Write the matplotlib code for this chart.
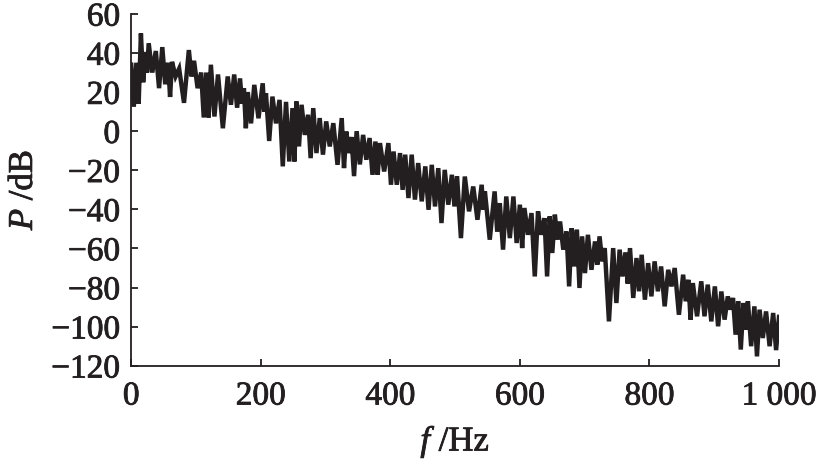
import matplotlib
matplotlib.use("Agg")
from matplotlib import pyplot as plt
from matplotlib import patheffects
from matplotlib.ticker import FuncFormatter

# segment start (Hz), upper and lower edge of the trace (dB)
seg_f = [0, 8, 15, 22, 27, 38, 48, 57, 63, 74, 89, 97, 108, 116, 123, 134, 149, 159, 168, 174,
         180, 190, 203, 208, 218, 229, 239, 249, 255, 263, 273, 281, 291, 301, 312, 325, 332, 340,
         348, 358, 368, 377, 384, 397, 405, 415, 423, 433, 443, 454, 464, 474, 484, 495, 503, 515,
         528, 541, 546, 561, 569, 579, 590, 600, 607, 618, 628, 638, 646, 654, 662, 672, 680, 688,
         696, 705, 716, 723, 731, 744, 754, 763, 770, 780, 788, 798, 808, 818, 829, 839, 852, 860,
         867, 880, 890, 901, 911, 921, 929, 937, 945, 952, 962, 970, 980, 991]
seg_top = [34, 35, 50, 40.5, 45, 41, 43, 35, 35.5, 32, 41.5, 36, 30, 30, 34, 29, 28, 29, 27, 22,
           20, 23.7, 24.5, 19.4, 17.7, 16, 15, 11.8, 15.2, 13.5, 8.4, 11.8, 6.7, 5, 4.1, 6.7, -0.2, -3,
           0, -1.9, -3.5, -5.3, -6.1, -6.1, -10.4, -11.2, -12, -12, -16.3, -18, -17.2, -18.9, -19.8, -22.3, -23, -23.2,
           -28.3, -27.4, -30.8, -30.8, -36.8, -33.4, -33.4, -37.6, -39.3, -41.9, -41, -44.5, -43.6, -42.7, -46.2, -51.3, -49.6, -50.4,
           -53.8, -53, -56.4, -53.8, -59.8, -59.8, -60.6, -62, -59.8, -64.9, -63.2, -67.5, -66.6, -69.2, -70.9, -70, -73.4, -76,
           -77.7, -76.8, -78.5, -79.4, -82, -84.5, -85.3, -87, -87.9, -87, -89.6, -91.3, -92.2, -93]
seg_bot = [12.5, 14, 25, 30, 30, 22, 24, 17.5, 28, 14.5, 28, 22, 7, 7, 7.5, 1.5, 13.5, 12, 14, 1.5,
           4, 6.6, 10, -5, 4, -18, -15.5, -15.5, -7.8, -1.9, -13.8, -11.2, -12, -7.8, -17.2, -18.9, -11.2, -23,
           -17, -14.6, -22.3, -22.3, -20.6, -27.4, -27.4, -30, -34.2, -35, -35.9, -40.2, -38.5, -47, -37.6, -38.5, -54.7, -41,
           -45.3, -40.2, -55.5, -51.3, -60.6, -54.7, -57.2, -59.8, -53, -74.3, -53, -74.3, -62.3, -55.5, -60.6, -79.4, -69.2, -80.2,
           -72.6, -70.9, -68.3, -66.6, -97.3, -87.9, -74.3, -78, -85.3, -81.9, -86.2, -84.5, -81.9, -89.6, -79.4, -93.9, -87, -96.4,
           -94.7, -94.7, -97.3, -99.8, -96.4, -91.3, -104.1, -111.7, -101.5, -110, -115.2, -105.8, -110, -112]

x_ticks = [0, 200, 400, 600, 800, 1000]
y_ticks = [60, 40, 20, 0, -20, -40, -60, -80, -100, -120]

# zigzag between the upper and lower edge of each segment
f = []
p = []
for i in range(len(seg_f)):
    nxt = seg_f[i + 1] if i + 1 < len(seg_f) else 1000
    f += [seg_f[i], (seg_f[i] + nxt) / 2]
    p += [seg_top[i], seg_bot[i]]
f.append(1000)
p.append(seg_top[-1] - 2)

ink = "#231f20"
plt.rcParams["font.family"] = ["Liberation Serif", "DejaVu Serif"]
plt.rcParams["mathtext.fontset"] = "custom"
plt.rcParams["mathtext.it"] = "Liberation Serif:italic"
plt.rcParams["mathtext.rm"] = "Liberation Serif"

fig = plt.figure(figsize=(8.2, 4.63), dpi=100)
ax = fig.add_axes([0.16, 0.21, 0.79, 0.76])
ax.plot(f, p, color=ink, lw=3.2, solid_joinstyle="miter")

ax.set_xlim(0, 1000)
ax.set_ylim(-120, 60)
ax.set_xticks(x_ticks)
ax.set_yticks(y_ticks)
ax.xaxis.set_major_formatter(FuncFormatter(lambda v, _: "1 000" if v == 1000 else "%d" % v))
ax.yaxis.set_major_formatter(FuncFormatter(lambda v, _: ("\u2212%d" % -v) if v < 0 else "%d" % v))
ax.tick_params(direction="in", length=5, width=1.3, labelsize=24, colors=ink)
ax.tick_params(axis="y", pad=8)
ax.tick_params(axis="x", pad=11)
ax.spines["top"].set_visible(False)
ax.spines["right"].set_visible(False)
for s in ["left", "bottom"]:
    ax.spines[s].set_linewidth(1.3)
    ax.spines[s].set_color(ink)

ax.set_xlabel("$f$ /Hz", fontsize=25, color=ink, labelpad=8)
ax.set_ylabel("$P$ /dB", fontsize=25, color=ink, labelpad=8)

# slightly heavier strokes on the text, like the printed figure
heavy = [patheffects.withStroke(linewidth=0.6, foreground=ink)]
for t in ax.get_xticklabels() + ax.get_yticklabels() + [ax.xaxis.label, ax.yaxis.label]:
    t.set_path_effects(heavy)

fig.savefig("out.png", dpi=100)
